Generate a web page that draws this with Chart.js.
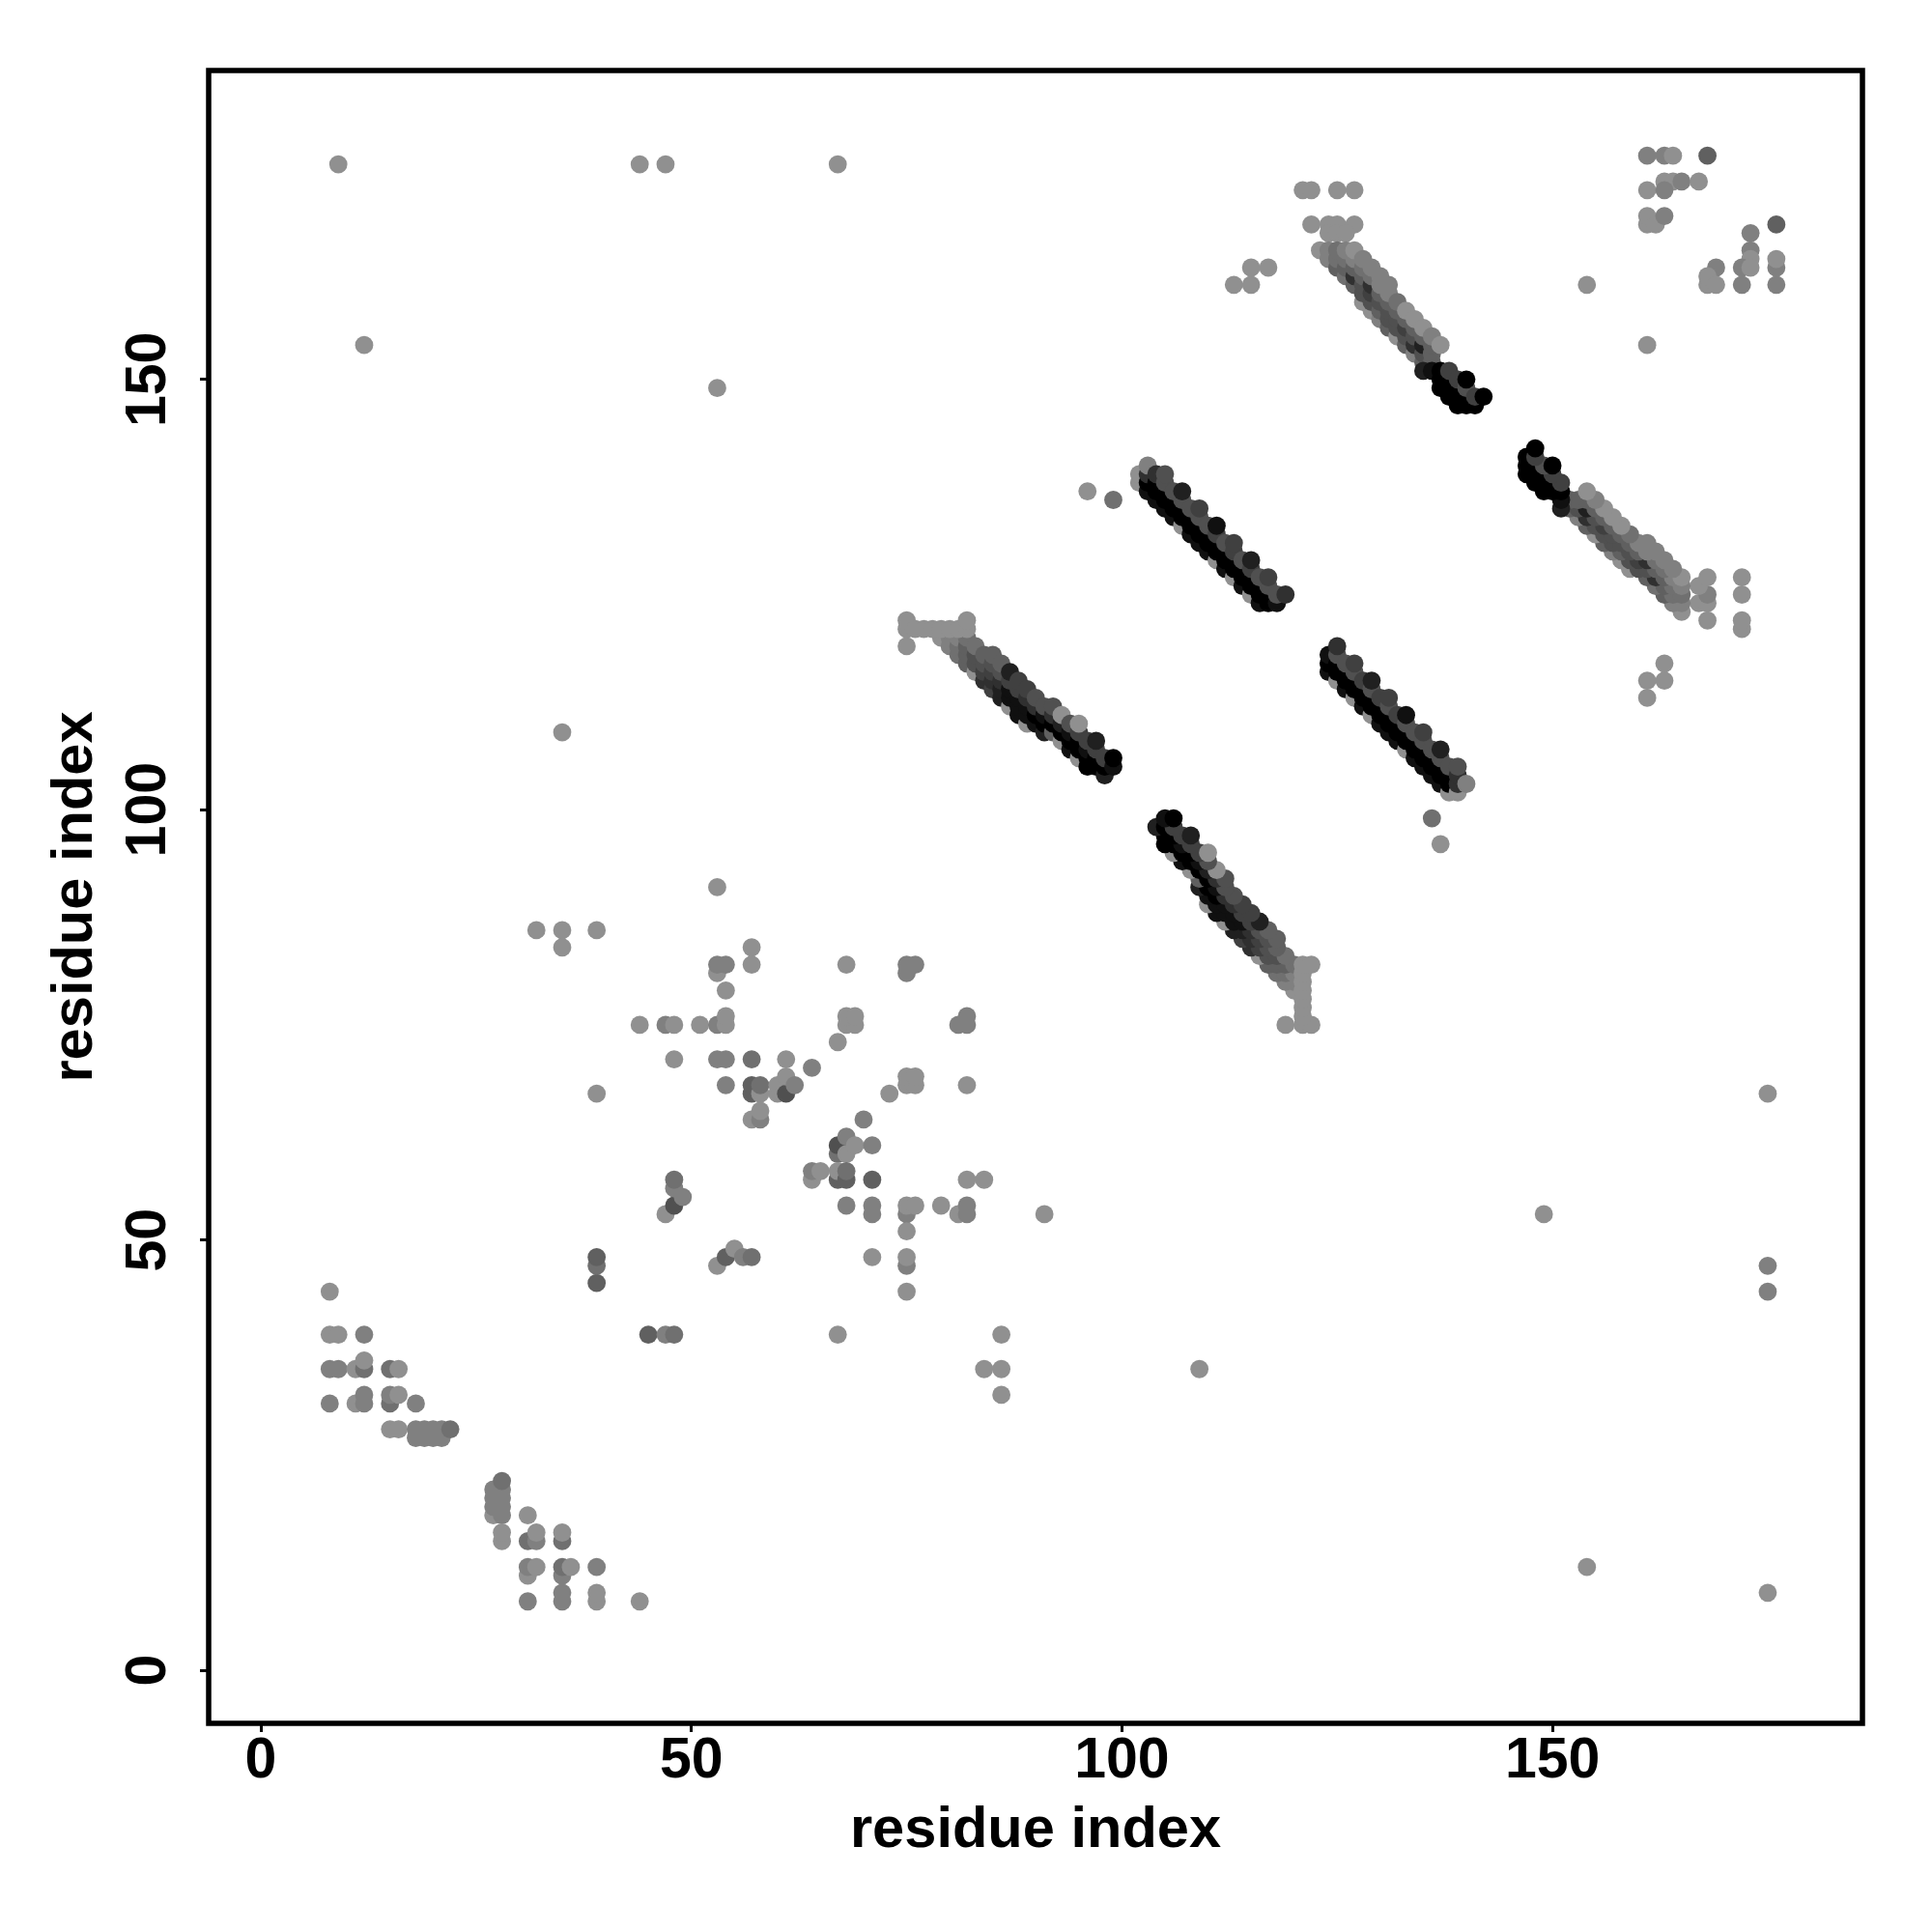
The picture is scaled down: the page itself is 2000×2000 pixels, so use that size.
<!DOCTYPE html>
<html>
<head>
<meta charset="utf-8">
<title>residue contacts</title>
<script src="https://cdn.jsdelivr.net/npm/chart.js@4"></script>
<style>
  html, body { margin: 0; padding: 0; background: #fff; }
  canvas { display: block; }
</style>
</head>
<body>
<canvas id="chart" width="2000" height="2000"></canvas>
<script>
// every contact is [residue x, residue y, strength 0-9]
const tickValues = [0, 50, 100, 150]
const axisName = 'residue index'

const lowCluster = [
  [8,44,0],[8,39,0],[9,39,0],[12,39,1],[8,35,1],[9,35,1],[11,35,0],[12,35,2],[12,36,0],[15,35,2],[16,35,0],
  [8,31,1],[11,31,0],[12,31,1],[12,32,1],[15,31,2],[15,32,1],[16,32,0],[18,31,1],[15,28,0],[16,28,0],
  [18,27,1],[19,27,1],[20,27,1],[21,27,1],[18,28,1],[19,28,1],[20,28,1],[21,28,1],[22,28,2],
  [27,18,0],[27,19,1],[27,20,1],[27,21,1],[28,18,1],[28,19,1],[28,20,1],[28,21,1],[28,22,2],[28,15,0],[28,16,0],
  [31,18,0],[31,15,2],[32,15,1],[32,16,0],[35,15,2],[35,16,0],[31,11,0],[31,12,1],[32,12,0],[35,11,1],[35,12,2],[36,12,0],
  [39,12,1],[31,8,1],[35,8,1],[35,9,1],[39,8,0],[39,9,0],[44,8,0]
]

const midCluster = [
  [53,91,0],[32,86,0],[35,86,0],[39,86,0],[35,84,0],[57,84,0],[53,81,0],[53,82,1],[54,82,1],[57,82,0],[68,82,0],
  [75,81,1],[75,82,1],[76,82,1],[54,79,0],[44,75,0],[47,75,1],[48,75,0],[51,75,0],[53,75,1],[54,75,0],[54,76,0],
  [67,73,0],[68,75,0],[69,75,0],[68,76,0],[69,76,0],[48,71,0],[53,71,1],[54,71,1],[57,71,2],[61,71,0],[64,70,1],
  [54,68,1],[57,67,3],[57,68,3],[58,67,0],[58,68,2],[60,67,0],[60,68,0],[61,67,4],[61,69,0],[62,68,1],
  [39,67,0],[73,67,0],[75,68,0],[76,68,0],[75,69,0],[76,69,0],[57,64,0],[58,64,1],[58,65,0],[70,64,1],
  [67,60,2],[67,61,4],[68,60,0],[68,62,1],[69,61,0],[71,61,1],[64,57,0],[64,58,1],[65,58,0],
  [67,57,3],[67,58,0],[68,57,3],[68,58,2],[71,57,3],[47,53,0],[48,54,4],[48,56,1],[48,57,2],[49,55,1],
  [68,54,1],[71,53,1],[71,54,1],[75,53,1],[75,54,0],[76,54,0],[75,51,0],[53,47,0],[54,48,3],[55,49,0],[56,48,1],[57,48,2],
  [39,45,3],[39,47,2],[39,48,3],[71,48,0],[75,47,1],[75,48,0],[75,44,0],
  [45,39,3],[47,39,1],[48,39,2],[67,39,0],[86,39,0],[84,35,0],[86,35,0],[86,32,0],
  [79,54,0],[81,53,0],[82,53,1],[82,54,1],[82,57,0],[84,57,0],[91,53,0],[82,68,0],[81,75,1],[82,75,1],[82,76,1]
]

const farContacts = [
  [9,175,0],[44,175,0],[47,175,0],[67,175,0],[12,154,0],[53,149,0],[35,109,0],[109,35,0],[149,53,0],[154,12,0],
  [175,9,0],[175,67,0],[175,47,1],[175,44,1],[154,161,0],[161,154,0],[96,137,0],[99,136,2],[136,99,2],[137,96,0]
]

const bandEdgeContacts = [
  [121,172,0],[122,172,0],[125,172,0],[127,172,0],[122,168,0],[124,168,0],[125,168,0],[127,168,0],[124,167,0],[125,167,0],[126,167,0],
  [113,161,0],[115,161,0],[115,163,0],[117,163,0],
  [168,122,0],[167,124,0],[168,124,0],[168,125,1],[167,126,0],[168,127,0],[172,121,0],[172,122,0],[172,125,0],[172,127,0],
  [161,113,0],[161,115,0],[163,115,0],[163,117,0]
]

const topRightCluster = [
  [161,176,1],[163,176,1],[164,176,0],[168,176,3],[163,173,0],[164,173,0],[165,173,1],[167,173,0],[161,172,0],[163,172,1],
  [161,168,0],[161,169,0],[162,168,0],[163,169,1],[176,168,3],[173,167,1],[173,165,1],[173,164,0],[172,163,1],[173,163,0],
  [169,163,1],[176,163,1],[176,164,0],[168,161,0],[168,162,0],[169,161,0],[172,161,1],[176,161,1]
]

const bandA = [
  [79,120,0],[80,119,1],[81,118,2],[82,117,3],[83,116,0],[84,115,6],[85,114,5],[86,113,7],[87,112,0],[88,111,8],[89,110,0],
  [80,120,1],[81,119,2],[82,118,3],[83,117,4],[84,116,5],[85,115,6],[86,114,7],[87,113,8],[88,112,8],[89,111,8],[90,110,8],[91,109,7],
  [81,120,1],[82,119,3],[83,118,4],[84,117,4],[85,116,5],[86,115,6],[87,114,8],[88,113,8],[89,112,8],[90,111,9],[91,110,9],[92,109,3],[93,108,0],[94,107,8],[95,106,0],[96,105,9],
  [82,120,2],[83,119,2],[84,118,3],[85,117,4],[86,116,4],[87,115,5],[88,114,5],[89,113,6],[90,112,6],[91,111,8],[92,110,9],[93,109,9],[94,108,9],[95,107,9],[96,106,9],[97,105,9],[98,104,7],
  [85,118,3],[86,117,3],[87,116,7],[88,115,5],[89,114,5],[90,113,4],[91,112,4],[92,111,6],[93,110,7],[94,109,8],[95,108,9],[96,107,8],[97,106,9],[98,105,9],
  [92,112,4],[93,111,0],[94,110,4],[95,109,5],[96,108,5],[97,107,5],[98,106,5],[99,105,8],
  [95,110,0],[97,108,7],[99,106,9],
  [75,119,0],[75,121,0],[75,122,0],[76,121,0],[77,121,0],[78,121,0],[79,121,0],[80,121,0],[81,121,0],[82,121,0],[82,122,0]
]

const bandAMirror = [
  [120,79,0],[119,80,1],[118,81,2],[117,82,3],[116,83,0],[115,84,6],[114,85,5],[113,86,7],[112,87,0],[111,88,8],[110,89,0],
  [120,80,1],[119,81,2],[118,82,3],[117,83,4],[116,84,5],[115,85,6],[114,86,7],[113,87,8],[112,88,8],[111,89,8],[110,90,8],[109,91,7],
  [120,81,1],[119,82,3],[118,83,4],[117,84,4],[116,85,5],[115,86,6],[114,87,8],[113,88,8],[112,89,8],[111,90,9],[110,91,9],[109,92,3],[108,93,0],[107,94,8],[106,95,0],[105,96,9],
  [120,82,2],[119,83,2],[118,84,3],[117,85,4],[116,86,4],[115,87,5],[114,88,5],[113,89,6],[112,90,6],[111,91,8],[110,92,9],[109,93,9],[108,94,9],[107,95,9],[106,96,9],[105,97,9],[104,98,7],
  [118,85,3],[117,86,3],[116,87,7],[115,88,5],[114,89,5],[113,90,4],[112,91,4],[111,92,6],[110,93,7],[109,94,8],[108,95,9],[107,96,8],[106,97,9],[105,98,9],
  [112,92,4],[111,93,0],[110,94,4],[109,95,5],[108,96,5],[107,97,5],[106,98,5],[105,99,8],
  [110,95,0],[108,97,7],[106,99,9],
  [119,75,0],[121,75,0],[122,75,0],[121,76,0],[121,77,0],[121,78,0],[121,79,0],[121,80,0],[121,81,0],[121,82,0],[122,82,0]
]

const bandB = [
  [124,116,8],[125,115,0],[126,114,8],[127,113,0],[128,112,8],[129,111,0],[130,110,8],[131,109,8],[132,108,8],[133,107,0],[134,106,8],[135,105,8],[136,104,8],[137,103,8],[138,102,0],
  [124,117,9],[125,116,9],[126,115,9],[127,114,9],[128,113,9],[129,112,9],[130,111,9],[131,110,9],[132,109,9],[133,108,9],[134,107,9],[135,106,9],[136,105,9],[137,104,9],[138,103,9],[139,102,0],
  [124,118,8],[125,117,9],[126,116,9],[127,115,9],[128,114,9],[129,113,9],[130,112,9],[131,111,9],[132,110,9],[133,109,9],[134,108,9],[135,107,9],[136,106,9],[137,105,9],[138,104,9],[139,103,6],
  [125,118,4],[126,117,4],[127,116,4],[128,115,5],[129,114,4],[130,113,5],[131,112,4],[132,111,5],[133,110,4],[134,109,4],[135,108,4],[136,107,4],[137,106,4],[138,105,4],[139,104,6],[140,103,1],
  [125,119,6],[127,117,5],[129,115,7],[131,113,5],[133,111,8],[135,109,5],[137,107,7],[139,105,4]
]

const bandBMirror = [
  [102,138,0],[103,137,8],[104,136,8],[105,135,8],[106,134,8],[107,133,0],[108,132,8],[109,131,8],[110,130,8],[111,129,0],[112,128,8],[113,127,0],[114,126,8],[115,125,0],[116,124,8],
  [102,139,0],[103,138,9],[104,137,9],[105,136,9],[106,135,9],[107,134,9],[108,133,9],[109,132,9],[110,131,9],[111,130,9],[112,129,9],[113,128,9],[114,127,9],[115,126,9],[116,125,9],[117,124,9],
  [103,139,6],[104,138,9],[105,137,9],[106,136,9],[107,135,9],[108,134,9],[109,133,9],[110,132,9],[111,131,9],[112,130,9],[113,129,9],[114,128,9],[115,127,9],[116,126,9],[117,125,9],[118,124,8],
  [103,140,1],[104,139,6],[105,138,4],[106,137,4],[107,136,4],[108,135,4],[109,134,4],[110,133,4],[111,132,5],[112,131,4],[113,130,5],[114,129,4],[115,128,5],[116,127,4],[117,126,4],[118,125,4],
  [105,139,4],[107,137,7],[109,135,5],[111,133,8],[113,131,5],[115,129,7],[117,127,5],[119,125,6]
]

const bandC = [
  [123,165,0],[124,164,1],[125,163,3],[126,162,2],[127,161,3],[128,159,0],[129,158,0],[130,157,1],[131,156,3],[132,155,0],[133,154,3],[134,153,1],[135,152,3],
  [128,160,4],[129,159,4],[130,158,3],[131,157,4],[132,156,4],[133,155,4],[134,154,6],[135,153,4],[136,152,3],
  [124,165,1],[125,164,2],[126,163,3],[127,162,6],[128,161,4],[129,160,5],[130,159,4],[131,158,4],[132,157,4],[133,156,5],[134,155,4],[135,154,7],[136,153,3],
  [125,165,2],[126,164,2],[127,163,3],[128,162,3],[129,161,6],[130,160,3],[131,159,3],[132,158,3],[133,157,3],[134,156,3],[135,155,3],[136,154,3],
  [126,165,1],[127,164,1],[128,163,2],[129,162,2],[130,161,1],[131,160,1],[132,159,2],[133,158,0],[134,157,0],[135,156,0],[136,155,1],[137,154,0],
  [127,165,0],[128,164,1],[129,163,1],[130,162,1],[131,161,1],
  [135,151,7],[137,149,9],[138,148,9],[139,147,9],[136,151,8],[137,150,9],[138,149,9],[139,148,9],[140,147,9],
  [137,151,9],[138,150,9],[139,149,9],[140,148,9],[141,147,9],[138,151,5],[139,150,5],[140,149,4],[141,148,5],[140,150,9],[142,148,9]
]

const bandCMirror = [
  [165,123,0],[164,124,1],[163,125,3],[162,126,2],[161,127,3],[159,128,0],[158,129,0],[157,130,1],[156,131,3],[155,132,0],[154,133,3],[153,134,1],[152,135,3],
  [160,128,4],[159,129,4],[158,130,3],[157,131,4],[156,132,4],[155,133,4],[154,134,6],[153,135,4],[152,136,3],
  [165,124,1],[164,125,2],[163,126,3],[162,127,6],[161,128,4],[160,129,5],[159,130,4],[158,131,4],[157,132,4],[156,133,5],[155,134,4],[154,135,7],[153,136,3],
  [165,125,2],[164,126,2],[163,127,3],[162,128,3],[161,129,6],[160,130,3],[159,131,3],[158,132,3],[157,133,3],[156,134,3],[155,135,3],[154,136,3],
  [165,126,1],[164,127,1],[163,128,2],[162,129,2],[161,130,1],[160,131,1],[159,132,2],[158,133,0],[157,134,0],[156,135,0],[155,136,1],[154,137,0],
  [165,127,0],[164,128,1],[163,129,1],[162,130,1],[161,131,1],
  [151,135,7],[149,137,9],[148,138,9],[147,139,9],[151,136,8],[150,137,9],[149,138,9],[148,139,9],[147,140,9],
  [151,137,9],[150,138,9],[149,139,9],[148,140,9],[147,141,9],[151,138,5],[150,139,5],[149,140,4],[148,141,5],[150,140,9],[148,142,9]
]

const contacts = [].concat(
  lowCluster, midCluster, farContacts, bandEdgeContacts, topRightCluster,
  bandA, bandAMirror, bandB, bandBMirror, bandC, bandCMirror
)

function strengthColor(s) {
  const g = 144 - 16 * s
  return `rgb(${g},${g},${g})`
}

const boxFrame = {
  id: 'boxFrame',
  afterDatasetsDraw(chart) {
    const { ctx, chartArea: a } = chart
    ctx.save()
    ctx.strokeStyle = '#000'
    ctx.lineWidth = 5.5
    ctx.strokeRect(a.left, a.top, a.right - a.left, a.bottom - a.top)
    ctx.restore()
  }
}

const tickFont = { family: '"Liberation Sans"', size: 59, weight: 'bold' }
const titleFont = { family: '"Liberation Sans"', size: 59.6, weight: 'bold' }

function axisOptions(min, max, extra) {
  return Object.assign({
    type: 'linear',
    min: min,
    max: max,
    afterBuildTicks: axis => { axis.ticks = tickValues.map(v => ({ value: v })) },
    border: { display: false },
    grid: { drawOnChartArea: false, drawTicks: true, tickLength: 9, tickWidth: 3, tickColor: '#000' }
  }, extra)
}

new Chart(document.getElementById('chart'), {
  type: 'scatter',
  data: {
    datasets: [{
      data: contacts.map(c => ({ x: c[0], y: c[1] })),
      pointBackgroundColor: contacts.map(c => strengthColor(c[2])),
      pointBorderWidth: 0,
      pointRadius: 9.4,
      pointHoverRadius: 9.4
    }]
  },
  options: {
    responsive: false,
    animation: false,
    layout: { padding: { top: 73, right: 72, left: 0, bottom: 0 } },
    plugins: { legend: { display: false }, tooltip: { enabled: false } },
    scales: {
      x: axisOptions(-6.06, 186, {
        afterFit: s => { s.height = 216 },
        ticks: { color: '#000', font: tickFont, padding: -5, maxRotation: 0, autoSkip: false },
        title: { display: true, text: axisName, color: '#000', font: titleFont, padding: { top: 0, bottom: 68.5 } }
      }),
      y: axisOptions(-6.17, 185.9, {
        afterFit: s => { s.width = 216 },
        ticks: { color: '#000', font: tickFont, padding: 3, minRotation: 90, maxRotation: 90, crossAlign: 'center', autoSkip: false },
        title: { display: true, text: axisName, color: '#000', font: titleFont, padding: { top: 43, bottom: 0 } }
      })
    }
  },
  plugins: [boxFrame]
})
</script>
</body>
</html>
